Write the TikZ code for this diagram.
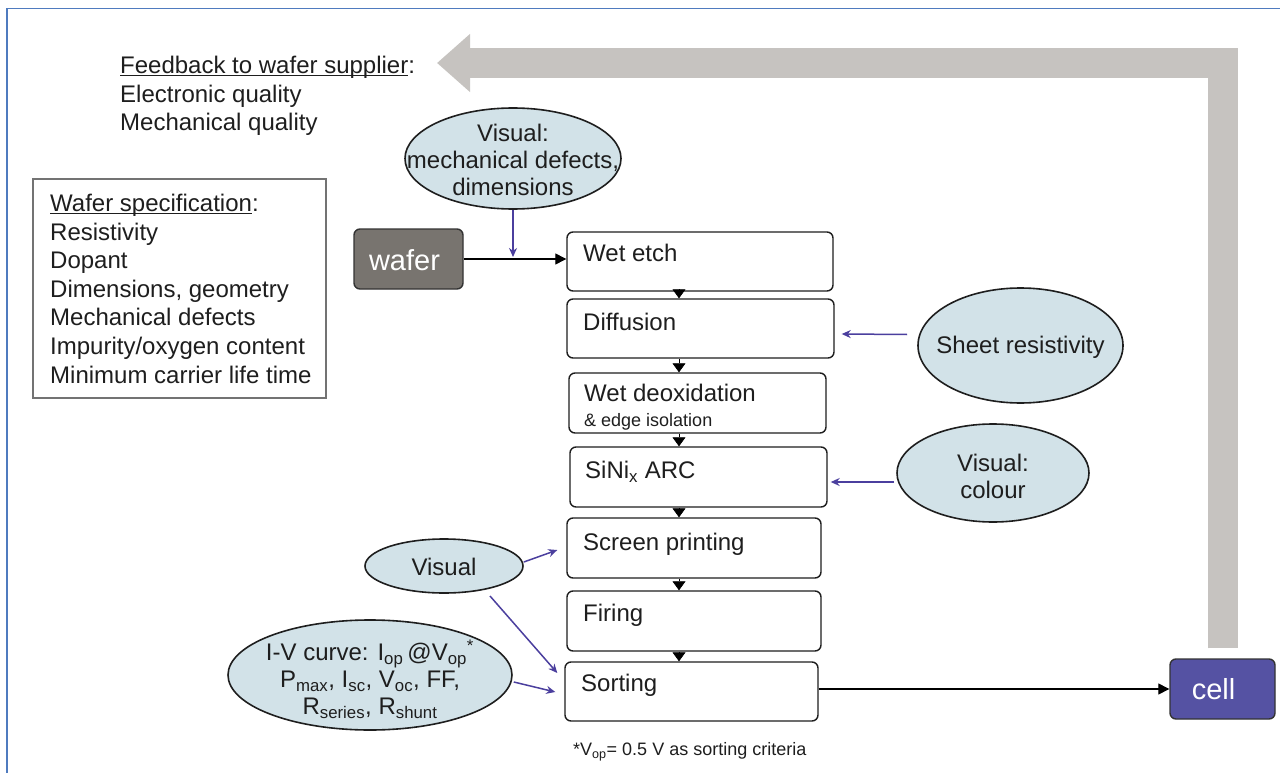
\documentclass[tikz,border=0pt]{standalone}
\usepackage{fontspec}
\setmainfont{Liberation Sans}
\usetikzlibrary{shapes.geometric,arrows.meta}

\definecolor{frameblue}{HTML}{4F7BBF}
\definecolor{feedgray}{HTML}{C6C3C0}
\definecolor{ellfill}{HTML}{D2E2E8}
\definecolor{probeblue}{HTML}{4B3F9E}
\definecolor{waferfill}{HTML}{78746F}
\definecolor{cellfill}{HTML}{5552A3}
\definecolor{ink}{HTML}{1E1E1E}

% underline that runs through the descenders
\newcommand\specline[1]{\setbox0\hbox{#1}\rlap{\rule[-2.6pt]{\wd0}{1.2pt}}\box0}

\tikzset{
  big/.style={font=\fontsize{24}{28.6}\selectfont, text=ink, inner sep=0pt},
  small/.style={font=\fontsize{18}{20}\selectfont, text=ink, inner sep=0pt},
  stepbox/.style={draw=ink, line width=1.4pt, rounded corners=6pt, inner sep=0pt},
  probeell/.style={ellipse, draw=ink, line width=1.6pt, fill=ellfill, inner sep=0pt},
  elltext/.style={font=\fontsize{24}{27}\selectfont, text=ink, align=center, inner sep=0pt},
  probearrow/.style={draw=probeblue, line width=1.5pt, -{Stealth[length=9pt,width=8pt]}},
  flow/.style={draw=black, line width=1.3pt, -{Triangle[length=11pt,width=11pt]}},
  linktip/.style={-{Triangle[length=9pt,width=13pt]}, line width=0.6pt},
  endbox/.style={draw=black!80, line width=1.4pt, rounded corners=6pt, inner sep=0pt},
  endtext/.style={font=\fontsize{29}{30}\selectfont, text=white, inner sep=0pt},
}

\begin{document}
\begin{tikzpicture}[x=1pt,y=-1pt]
\useasboundingbox (0,0) rectangle (1280,773);
\fill[white] (0,0) rectangle (1280,773);

% page frame
\draw[frameblue, line width=1.5pt] (7,773) -- (7,8.5) -- (1280,8.5);

% feedback text
\node[big, anchor=north west, align=left] (fb) at (120,56)
  {\specline{Feedback to wafer supplier}:\\Electronic quality\\Mechanical quality};
\coordinate (fbtip) at (437,63);

% wafer specification
\node[draw=black!55, line width=2pt, minimum width=293pt, minimum height=219pt, inner sep=0pt] (spec) at (179.5,288.5) {};
\node[big, anchor=north west, align=left] (specT) at (50,194)
  {\specline{Wafer specification}:\\Resistivity\\Dopant\\Dimensions, geometry\\Mechanical defects\\Impurity/oxygen content\\Minimum carrier life time};

% start and end
\node[endbox, fill=waferfill, minimum width=109pt, minimum height=60pt] (wafer) at (408.5,259) {};
\node[endtext] (waferT) at (404.5,260) {wafer};
\node[endbox, fill=cellfill, minimum width=105pt, minimum height=60pt] (cell) at (1222.5,689) {};
\node[endtext] (cellT) at (1213.5,689) {cell};

% process steps
\node[stepbox, minimum width=266pt, minimum height=59pt] (etch)   at (700,261.5) {};
\node[stepbox, minimum width=267pt, minimum height=59pt] (diff)   at (700.5,328.5) {};
\node[stepbox, minimum width=257pt, minimum height=60pt] (deox)   at (697.5,403) {};
\node[stepbox, minimum width=257pt, minimum height=60pt] (sinix)  at (698.5,477) {};
\node[stepbox, minimum width=254pt, minimum height=60pt] (screen) at (694,548) {};
\node[stepbox, minimum width=254pt, minimum height=60pt] (firing) at (694,621) {};
\node[stepbox, minimum width=253pt, minimum height=59pt] (sort)   at (691.5,691.5) {};

\node[big, anchor=base west] (etchT)   at (583,261.5) {Wet etch};
\node[big, anchor=base west] (diffT)   at (583,330.5) {Diffusion};
\node[big, anchor=base west] (deoxT)   at (584,401.5) {Wet deoxidation};
\node[small, anchor=base west] (deoxS) at (584,426.5) {\& edge isolation};
\node[big, anchor=base west] (sinixT)  at (585,478.5) {SiNi\textsubscript{x} ARC};
\node[big, anchor=base west] (screenT) at (583,550.5) {Screen printing};
\node[big, anchor=base west] (firingT) at (583,621.5) {Firing};
\node[big, anchor=base west] (sortT)   at (581,691.5) {Sorting};

\node[small, anchor=base west] (note) at (573,755.5) {*V\textsubscript{op}= 0.5 V as sorting criteria};

% links between steps
\coordinate (lx) at (679,0);
\draw[linktip] (etch.south -| lx)   -- (diff.north -| lx);
\draw[linktip] (diff.south -| lx)   -- (deox.north -| lx);
\draw[linktip] (deox.south -| lx)   -- (sinix.north -| lx);
\draw[linktip] (sinix.south -| lx)  -- (screen.north -| lx);
\draw[linktip] (screen.south -| lx) -- (firing.north -| lx);
\draw[linktip] (firing.south -| lx) -- (sort.north -| lx);

% inspections
\node[probeell, minimum width=216pt, minimum height=101pt] (vis1) at (513,158.5) {};
\node[elltext] (vis1T) at (513,160) {Visual:\\mechanical defects,\\dimensions};
\node[probeell, minimum width=205pt, minimum height=115pt] (sheet) at (1020.5,345.5) {};
\node[elltext] (sheetT) at (1020.5,347) {Sheet resistivity};
\node[probeell, minimum width=192pt, minimum height=98pt] (vis2) at (993,473) {};
\node[elltext] (vis2T) at (993,476) {Visual:\\colour};
\node[probeell, minimum width=158pt, minimum height=54pt] (vis3) at (444,566) {};
\node[elltext] (vis3T) at (444,567) {Visual};
\node[probeell, minimum width=284pt, minimum height=110pt] (iv) at (370,675) {};
\node[elltext] (ivT) at (370,679)
  {I-V curve: I\textsubscript{op}\,@V\textsubscript{op}\textsuperscript{*}\\
   P\textsubscript{max}, I\textsubscript{sc}, V\textsubscript{oc}, FF,\\
   R\textsubscript{series}, R\textsubscript{shunt}};

% material flow
\draw[flow] (wafer.east) -- (wafer.east -| etch.west);
\draw[flow] (sort.east |- cell.west) -- (cell.west);

% inspection arrows
\draw[probearrow] (vis1.south) -- ([yshift=2pt]vis1.south |- wafer.east);
\draw[probearrow] ([shift={(-10,-11)}]sheet.west) -- ([shift={(7,5.5)}]diff.east);
\draw[probearrow] ([shift={(-2,9)}]vis2.west) -- ([shift={(3,5)}]sinix.east);
\draw[probearrow] ([shift={(0,-4)}]vis3.east) -- ([shift={(-9,2)}]screen.west);
\draw[probearrow] ([shift={(46,30)}]vis3.center) -- ([shift={(-7,-18.5)}]sort.west);
\draw[probearrow] ([shift={(1,7)}]iv.east) -- ([shift={(-9,0.5)}]sort.west);

% feedback from the finished cell
\draw[feedgray, line width=30pt, -{Triangle[length=33pt,width=56pt]}]
  ([yshift=10pt]cell.north) |- (fbtip);
\end{tikzpicture}
\end{document}
